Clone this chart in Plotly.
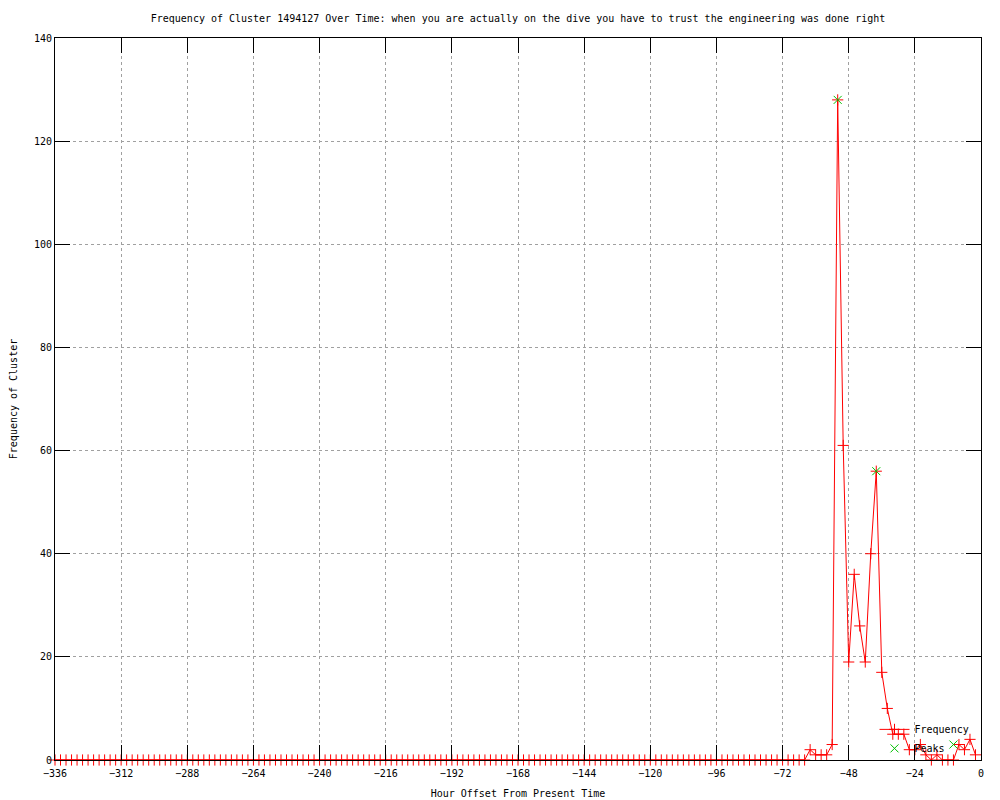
import plotly.graph_objects as go

# Hour offsets (every 2 hours from -336 to -2)
hours = list(range(-336, 0, 2))

# Frequency values
frequency = [
    0, 0, 0, 0, 0, 0, 0, 0, 0, 0, 0, 0, 0, 0, 0, 0, 0, 0, 0, 0,
    0, 0, 0, 0, 0, 0, 0, 0, 0, 0, 0, 0, 0, 0, 0, 0, 0, 0, 0, 0,
    0, 0, 0, 0, 0, 0, 0, 0, 0, 0, 0, 0, 0, 0, 0, 0, 0, 0, 0, 0,
    0, 0, 0, 0, 0, 0, 0, 0, 0, 0, 0, 0, 0, 0, 0, 0, 0, 0, 0, 0,
    0, 0, 0, 0, 0, 0, 0, 0, 0, 0, 0, 0, 0, 0, 0, 0, 0, 0, 0, 0,
    0, 0, 0, 0, 0, 0, 0, 0, 0, 0, 0, 0, 0, 0, 0, 0, 0, 0, 0, 0,
    0, 0, 0, 0, 0, 0, 0, 0, 0, 0, 0, 0, 0, 0, 0, 0, 0,
    2, 1, 1, 1, 3, 128, 61, 19, 36, 26, 19, 40, 56, 17, 10, 5,
    5, 5, 2, 2, 3, 1, 0, 1, 0, 0, 0, 3, 2, 4, 1,
]

# Peaks
peak_hours = [-52, -38, -10]
peak_values = [128, 56, 3]

title_text = ("Frequency of Cluster 1494127 Over Time: when you are actually on the dive "
              "you have to trust the engineering was done right")
x_ticks = list(range(-336, 1, 24))
y_ticks = list(range(0, 141, 20))

FONT = "DejaVu Sans Mono"
RED = "#ff0000"
GREEN = "#00c000"

fig = go.Figure()
fig.add_trace(go.Scatter(
    x=hours, y=frequency, mode="lines+markers", name="Frequency",
    line=dict(color=RED, width=1),
    marker=dict(symbol="cross-thin-open", size=8, color=RED, line=dict(color=RED, width=1)),
    cliponaxis=False,
))
fig.add_trace(go.Scatter(
    x=peak_hours, y=peak_values, mode="markers", name="Peaks",
    marker=dict(symbol="x-thin-open", size=8, color=GREEN, line=dict(color=GREEN, width=1)),
    cliponaxis=False,
))

axis_common = dict(
    showline=True, linecolor="black", linewidth=1, mirror="allticks",
    ticks="inside", ticklen=15, tickcolor="black", tickwidth=1,
    showgrid=True, gridcolor="#a0a0a0", griddash="dot", gridwidth=1,
    zeroline=False, automargin=False,
    tickfont=dict(family=FONT, size=10, color="black"),
)

fig.update_layout(
    width=1000, height=800,
    paper_bgcolor="white", plot_bgcolor="white",
    margin=dict(l=47, r=27, t=30, b=48, autoexpand=False),
    font=dict(family=FONT, size=10, color="black"),
    title=dict(text=title_text, x=0.5, xref="paper", xanchor="center",
               y=1 - 10 / 800, yanchor="middle",
               font=dict(family=FONT, size=10, color="black")),
    xaxis=dict(range=[-336, 0], tickvals=x_ticks, ticklabelstandoff=4,
               title=dict(text="Hour Offset From Present Time", standoff=11,
                          font=dict(family=FONT, size=10)),
               **axis_common),
    yaxis=dict(range=[0, 140], tickvals=y_ticks,
               title=dict(text="Frequency of Cluster", standoff=14,
                          font=dict(family=FONT, size=10)),
               **axis_common),
    legend=dict(x=0.885, y=-0.004, xanchor="left", yanchor="bottom",
                bgcolor="rgba(0,0,0,0)", font=dict(family=FONT, size=10),
                tracegroupgap=0, itemwidth=30),
    showlegend=True,
)

fig.write_html("out.html")
